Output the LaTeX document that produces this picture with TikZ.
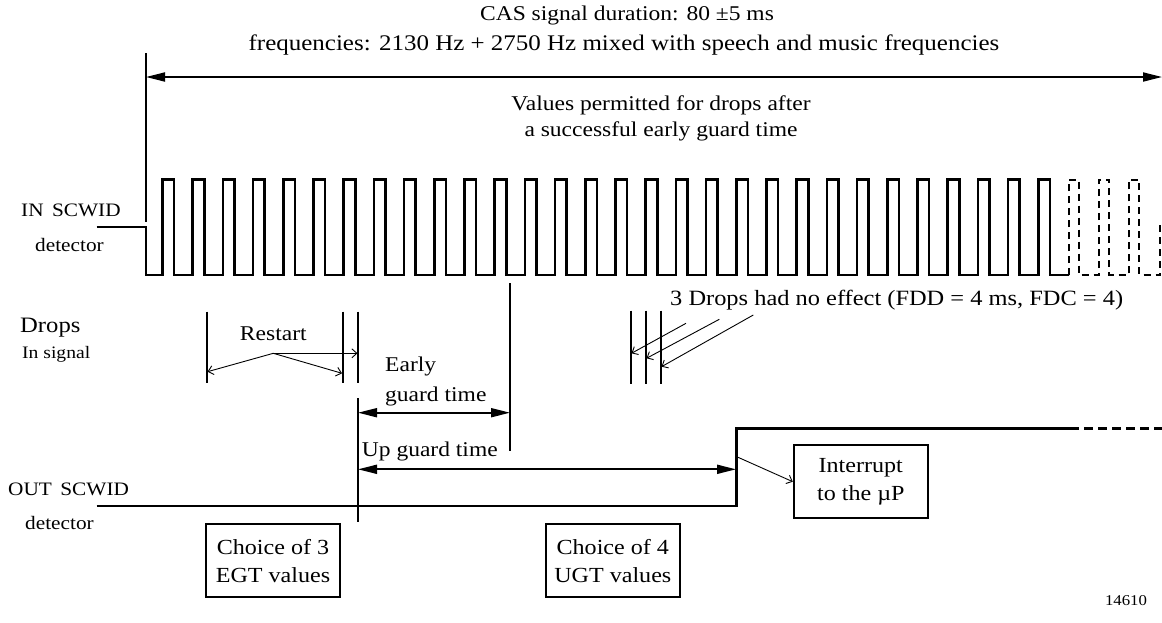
\documentclass[tikz,border=0pt]{standalone}
\usepackage{fontspec}
\setmainfont{Liberation Serif}[FakeStretch=1.12]
\usetikzlibrary{arrows.meta}
\tikzset{
  txt/.style={inner sep=0pt, font=\fontsize{21}{25}\selectfont},
  lbl/.style={inner sep=0pt, font=\fontsize{19}{22}\selectfont},
  wave/.style={line width=2.6pt, line join=miter},
  dwave/.style={line width=2pt, dash pattern=on 7pt off 5pt},
  outline/.style={line width=2.8pt, line join=miter},
  tickline/.style={line width=1.6pt},
  thinarrow/.style={line width=0.9pt, -{Straight Barb[length=5pt,width=9pt]}},
  bigarrow/.style={line width=1.8pt, {Triangle[length=19pt,width=9pt]}-{Triangle[length=19pt,width=9pt]}},
  boxed/.style={draw, line width=2pt, inner sep=0pt, minimum width=134pt, minimum height=73pt, align=center, font=\fontsize{21.5}{28}\selectfont},
}
\begin{document}
\begin{tikzpicture}[x=1pt,y=-1pt]
\useasboundingbox (0,0) rectangle (1162,622);
% titles
\node[txt, anchor=base] (title) at (627,20.7) {CAS signal duration: 80 ±5 ms};
\node[inner sep=0pt, anchor=base, font=\fontsize{22.3}{25}\selectfont] (freq) at (624,50) {frequencies: 2130 Hz + 2750 Hz mixed with speech and music frequencies};
\node[txt, anchor=base] (vals1) at (661,110) {Values permitted for drops after};
\node[txt, anchor=base] (vals2) at (661,136) {a successful early guard time};
% start marker and duration arrow
\coordinate (s0) at (146,53);
\coordinate (s1) at (146,222);
\draw[tickline] (s0) -- (s1);
\coordinate (aL) at (146,77);
\coordinate (aR) at (1162,77);
\draw[bigarrow] (aL) -- (aR);
% IN labels
\node[lbl, anchor=base west] (inl) at (21,216.7) {IN\, SCWID};
\node[lbl, anchor=base west] (indet) at (35,251.7) {detector};
% input wave
\coordinate (w0) at (96.7,227);
\coordinate (w1) at (1068.5,275);
\coordinate (w2) at (1160,275);
\coordinate (w3) at (1160,222);
\draw[wave] (w0) -- (146,227) -- (146,275)
  foreach \k in {0,...,29}{ -- ({162.5+30.2*\k},275) -- ({162.5+30.2*\k},179.5) -- ({174+30.2*\k},179.5) -- ({174+30.2*\k},275) } -- (w1);
\draw[dwave] (w1)
  foreach \k in {30,31,32}{ -- ({162.5+30.2*\k},275) -- ({162.5+30.2*\k},179.5) -- ({173+30.2*\k},179.5) -- ({173+30.2*\k},275) } -- (w2) -- (w3);
% Drops labels
\node[inner sep=0pt, anchor=base west, font=\fontsize{22}{25}\selectfont] (drops) at (20,332) {Drops};
\node[inner sep=0pt, anchor=base west, font=\fontsize{17.5}{20}\selectfont] (insig) at (22,358) {In signal};
% restart
\coordinate (r1a) at (206.7,311.7); \coordinate (r1b) at (206.7,383);
\coordinate (r2a) at (343,311.7);   \coordinate (r2b) at (343,383);
\coordinate (r3a) at (358,311.7);   \coordinate (r3b) at (358,383);
\draw[tickline] (r1a) -- (r1b);
\draw[tickline] (r2a) -- (r2b);
\draw[tickline] (r3a) -- (r3b);
\node[txt, anchor=base] (restart) at (273.3,340) {Restart};
\coordinate (rs) at (273.3,353.3);
\coordinate (rt1) at (207.5,371.7);
\coordinate (rt2) at (342,373.3);
\coordinate (rt3) at (357.5,353.3);
\draw[thinarrow] (rs) -- (rt1);
\draw[thinarrow] (rs) -- (rt2);
\draw[thinarrow] (rs) -- (rt3);
% guard times
\coordinate (g1a) at (358,398); \coordinate (g1b) at (358,522);
\coordinate (g2a) at (510,283); \coordinate (g2b) at (510,451);
\draw[tickline] (g1a) -- (g1b);
\draw[tickline] (g2a) -- (g2b);
\node[txt, anchor=base west] (early) at (385,371.7) {Early};
\node[txt, anchor=base west] (egt) at (385,401.7) {guard time};
\coordinate (e1) at (358,412.7); \coordinate (e2) at (510,412.7);
\draw[bigarrow] (e1) -- (e2);
\node[txt, anchor=base west] (ugt) at (361.7,456.7) {Up guard time};
\coordinate (u1) at (358,469.3); \coordinate (u2) at (736,469.3);
\draw[bigarrow] (u1) -- (u2);
% no-effect drops
\coordinate (d1a) at (630.7,310.7); \coordinate (d1b) at (630.7,384);
\coordinate (d2a) at (645.7,310.7); \coordinate (d2b) at (645.7,384);
\coordinate (d3a) at (660.7,310.7); \coordinate (d3b) at (660.7,384);
\draw[tickline] (d1a) -- (d1b);
\draw[tickline] (d2a) -- (d2b);
\draw[tickline] (d3a) -- (d3b);
\node[inner sep=0pt, anchor=base west, font=\fontsize{21.8}{25}\selectfont] (noeff) at (670,305) {3 Drops had no effect (FDD = 4 ms, FDC = 4)};
\coordinate (n1) at (686,323.3);   \coordinate (m1) at (631.5,353.3);
\coordinate (n2) at (719.3,319.3); \coordinate (m2) at (646.5,358.3);
\coordinate (n3) at (753.3,315);   \coordinate (m3) at (661.5,366.7);
\draw[thinarrow] (n1) -- (m1);
\draw[thinarrow] (n2) -- (m2);
\draw[thinarrow] (n3) -- (m3);
% OUT labels
\node[lbl, anchor=base west] (outl) at (8,495) {OUT\, SCWID};
\node[lbl, anchor=base west] (outdet) at (25,529.3) {detector};
% output line
\coordinate (o0) at (96.7,506);
\coordinate (o1) at (736.7,506);
\coordinate (o2) at (736.7,428.3);
\coordinate (o3) at (1070,428.3);
\coordinate (o4) at (1162,428.3);
\draw[outline] (o0) -- (o1) -- (o2) -- (o3);
\draw[line width=2.6pt, dash pattern=on 9pt off 5pt] (o3) -- (o4);
% interrupt
\node[boxed] (intr) at (860.8,481.7) {Interrupt\\to the µP};
\coordinate (ip) at (736.7,456.7);
\draw[thinarrow] (ip) -- (intr.west);
% choice boxes
\node[boxed] (egtbox) at (273,560.8) {Choice of 3\\EGT values};
\node[boxed] (ugtbox) at (612.8,560.8) {Choice of 4\\UGT values};
% figure number
\node[inner sep=0pt, anchor=base, font=\fontsize{15}{18}\selectfont] (fig) at (1126,605) {14610};
\end{tikzpicture}
\end{document}
